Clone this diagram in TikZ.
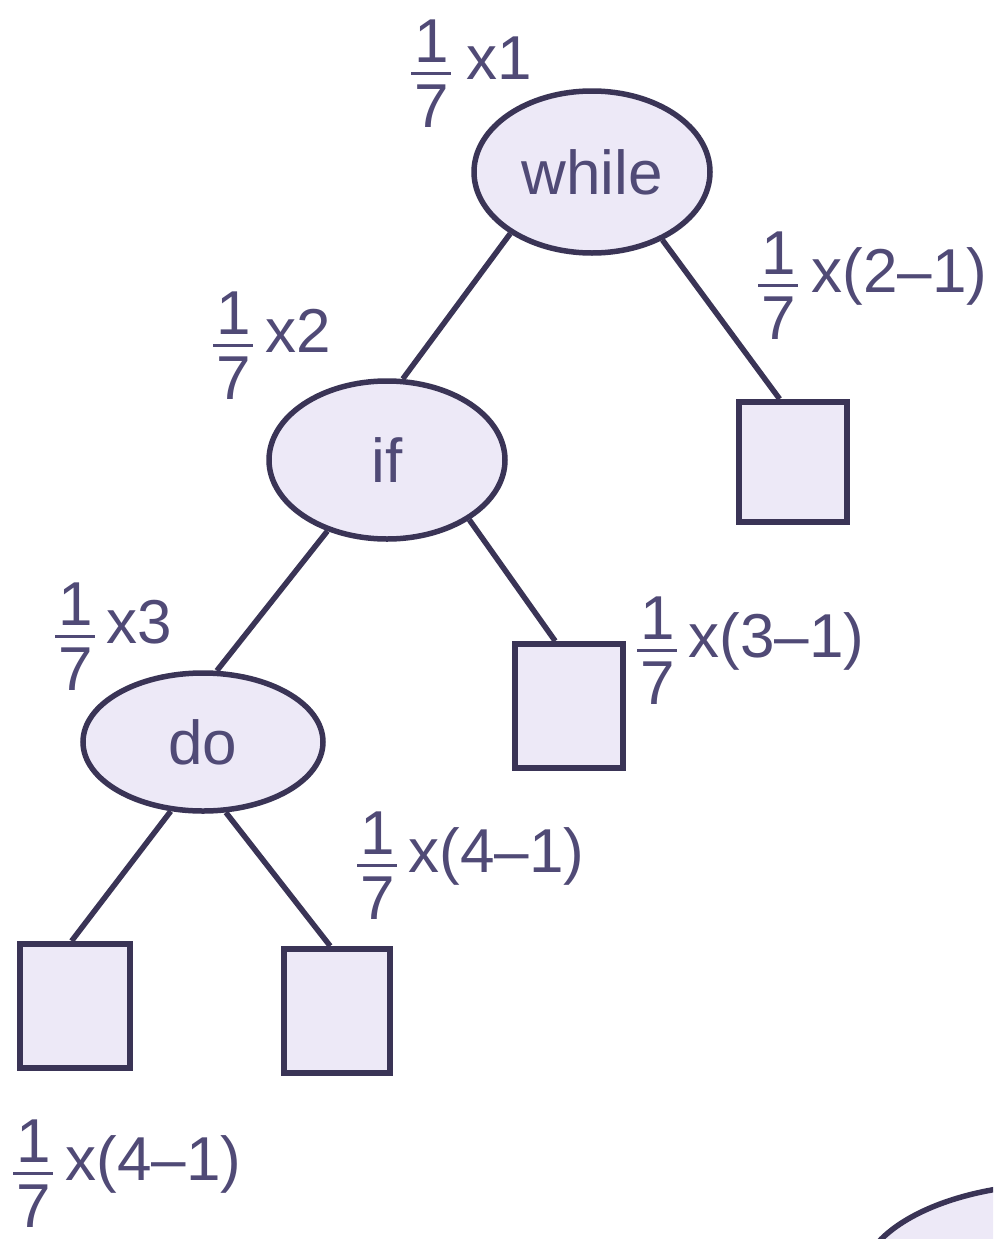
\documentclass[tikz,border=0pt]{standalone}
\usepackage{amsmath}
\usepackage{fontspec}
\setmainfont{Liberation Sans}
\usetikzlibrary{shapes.geometric}
\definecolor{ink}{HTML}{3A3456}
\definecolor{txt}{HTML}{504A76}
\definecolor{fillc}{HTML}{EDE9F7}
\newcommand\sevfr{\raisebox{0pt}{$\genfrac{}{}{3.2pt}{0}{\makebox[40pt]{1}}{\makebox[40pt]{7}}$}}
\tikzset{
  bigfont/.style={font=\fontsize{62}{70}\selectfont},
  elnode/.style={ellipse, draw=ink, fill=fillc, line width=5.5pt, inner sep=0pt, text=txt, bigfont},
  leaf/.style={rectangle, draw=ink, fill=fillc, line width=6pt, inner sep=0pt},
  edge/.style={draw=ink, line width=5.5pt},
  lab/.style={text=txt, bigfont, inner sep=0pt, anchor=base west}
}
\begin{document}
\begin{tikzpicture}[x=1pt, y=-1pt]
\useasboundingbox (0,0) rectangle (993,1239);
\fill[white] (0,0) rectangle (993,1239);
\clip (0,0) rectangle (993,1239);

% nodes
\node[elnode, minimum width=236pt, minimum height=162pt] (while) at (592,172) {while};
\node[elnode, minimum width=236pt, minimum height=158pt] (if) at (387,460) {if};
\node[elnode, minimum width=240pt, minimum height=138pt] (do) at (203,742) {do};
\node[leaf, minimum width=108pt, minimum height=120pt] (leafR) at (793,462) {};
\node[leaf, minimum width=108pt, minimum height=124pt] (leafM) at (569,706) {};
\node[leaf, minimum width=110pt, minimum height=124pt] (leafL) at (75,1006) {};
\node[leaf, minimum width=106pt, minimum height=124pt] (leafLR) at (337,1011) {};
\node[ellipse, draw=ink, fill=fillc, line width=5.5pt, minimum width=400pt, minimum height=200pt] (next) at (1060,1284) {};

% connectors
\draw[edge] (while.217) -- (if.79);
\draw[edge] (while.316) -- (leafR.102);
\draw[edge] (if.230) -- (do.79);
\draw[edge] (if.324) -- (leafM.102);
\draw[edge] (do.245) -- (leafL.93);
\draw[edge] (do.288) -- (leafLR.96);

% labels
\node[lab] (l1) at (410,80) {\sevfr\hspace{14pt}x1};
\node[lab] (l2) at (757,292) {\sevfr\hspace{12pt}x(2–1)};
\node[lab] (l3) at (212,352) {\sevfr\hspace{11pt}x2};
\node[lab] (l4) at (54,643) {\sevfr\hspace{10pt}x3};
\node[lab] (l5) at (636,657) {\sevfr\hspace{10pt}x(3–1)};
\node[lab] (l6) at (356,872) {\sevfr\hspace{10pt}x(4–1)};
\node[lab] (l7) at (12,1180) {\sevfr\hspace{11pt}x(4–1)};
\end{tikzpicture}
\end{document}
